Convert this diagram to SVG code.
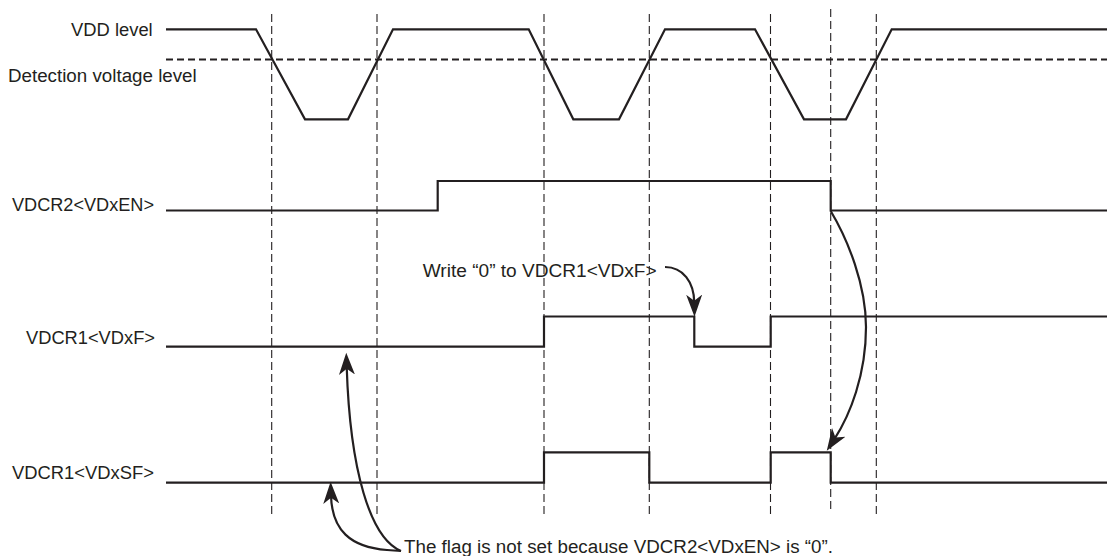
<svg xmlns="http://www.w3.org/2000/svg" width="1107" height="556" viewBox="0 0 1107 556">
<style>
.bg{fill:#ffffff}
.lbl{font-family:"Liberation Sans",Arial,sans-serif;font-size:18px;fill:#231f20}
.wave{fill:none;stroke:#231f20;stroke-width:2.2;stroke-linejoin:miter}
.grid{fill:none;stroke:#231f20;stroke-width:1.1;stroke-dasharray:8,4}
.det{fill:none;stroke:#231f20;stroke-width:2.2;stroke-dasharray:7,4}
.conn{fill:none;stroke:#231f20;stroke-width:2.2}
</style>
<defs>
<marker id="ah" markerUnits="userSpaceOnUse" markerWidth="24" markerHeight="18" viewBox="0 -9 24 18" refX="8" refY="0" orient="auto">
<path d="M22,0 L0,-8 L6,0 L0,8 Z" fill="#231f20"/>
</marker>
</defs>
<rect class="bg" x="0" y="0" width="1107" height="556"/>
<g id="timing-grid">
<line class="grid" x1="271.7" y1="14" x2="271.7" y2="515"/>
<line class="grid" x1="377" y1="14" x2="377" y2="515"/>
<line class="grid" x1="544" y1="14" x2="544" y2="515"/>
<line class="grid" x1="649.3" y1="14" x2="649.3" y2="515"/>
<line class="grid" x1="770.5" y1="14" x2="770.5" y2="515"/>
<line class="grid" x1="830.7" y1="9" x2="830.7" y2="510"/>
<line class="grid" x1="876.3" y1="14" x2="876.3" y2="515"/>
</g>
<g id="vdd">
<text class="lbl" x="71" y="36" textLength="81.7" lengthAdjust="spacingAndGlyphs">VDD level</text>
<path class="wave" d="M166,29.3 L256,29.3 L305,119.3 L348,119.3 L393,29.3 L528.7,29.3 L573.3,119.3 L619,119.3 L665,29.3 L755,29.3 L804,119.3 L846,119.3 L891.7,29.3 L1107,29.3"/>
</g>
<g id="detection">
<text class="lbl" x="8" y="82" textLength="188.7" lengthAdjust="spacingAndGlyphs">Detection voltage level</text>
<line class="det" x1="166" y1="59.5" x2="1107" y2="59.5"/>
</g>
<g id="vdcr2-vdxen">
<text class="lbl" x="12" y="211" textLength="142" lengthAdjust="spacingAndGlyphs">VDCR2&lt;VDxEN&gt;</text>
<path class="wave" d="M166,210.5 H437.7 V181 H830.7 V210.5 H1107"/>
</g>
<g id="vdcr1-vdxf">
<text class="lbl" x="26" y="343.5" textLength="129" lengthAdjust="spacingAndGlyphs">VDCR1&lt;VDxF&gt;</text>
<path class="wave" d="M166,346.7 H544 V316.5 H694.3 V346.7 H770.7 V316.5 H1107"/>
</g>
<g id="vdcr1-vdxsf">
<text class="lbl" x="12" y="478.7" textLength="142" lengthAdjust="spacingAndGlyphs">VDCR1&lt;VDxSF&gt;</text>
<path class="wave" d="M166,482.7 H544 V452.3 H649.3 V482.7 H770.7 V452.3 H830.7 V482.7 H1107"/>
</g>
<g id="note-write">
<text class="lbl" x="422.7" y="276.7" textLength="234" lengthAdjust="spacingAndGlyphs">Write “0” to VDCR1&lt;VDxF&gt;</text>
</g>
<g id="note-flag">
<text class="lbl" x="404" y="553" textLength="429" lengthAdjust="spacingAndGlyphs">The flag is not set because VDCR2&lt;VDxEN&gt; is “0”.</text>
</g>
<g id="connectors">
<path class="conn" marker-end="url(#ah)" d="M665,267 C683,267 694,282 694.3,302.7"/>
<path class="conn" marker-end="url(#ah)" d="M830.7,211 C848,240 866,285 866,327 C866,375 850,415 834.4,439.1"/>
<path class="conn" marker-end="url(#ah)" d="M401,551 C370,538 350,470 346.7,366.7"/>
<path class="conn" marker-end="url(#ah)" d="M401,551 L387,550 C350,547 332,530 331,495.7"/>
</g>
</svg>
